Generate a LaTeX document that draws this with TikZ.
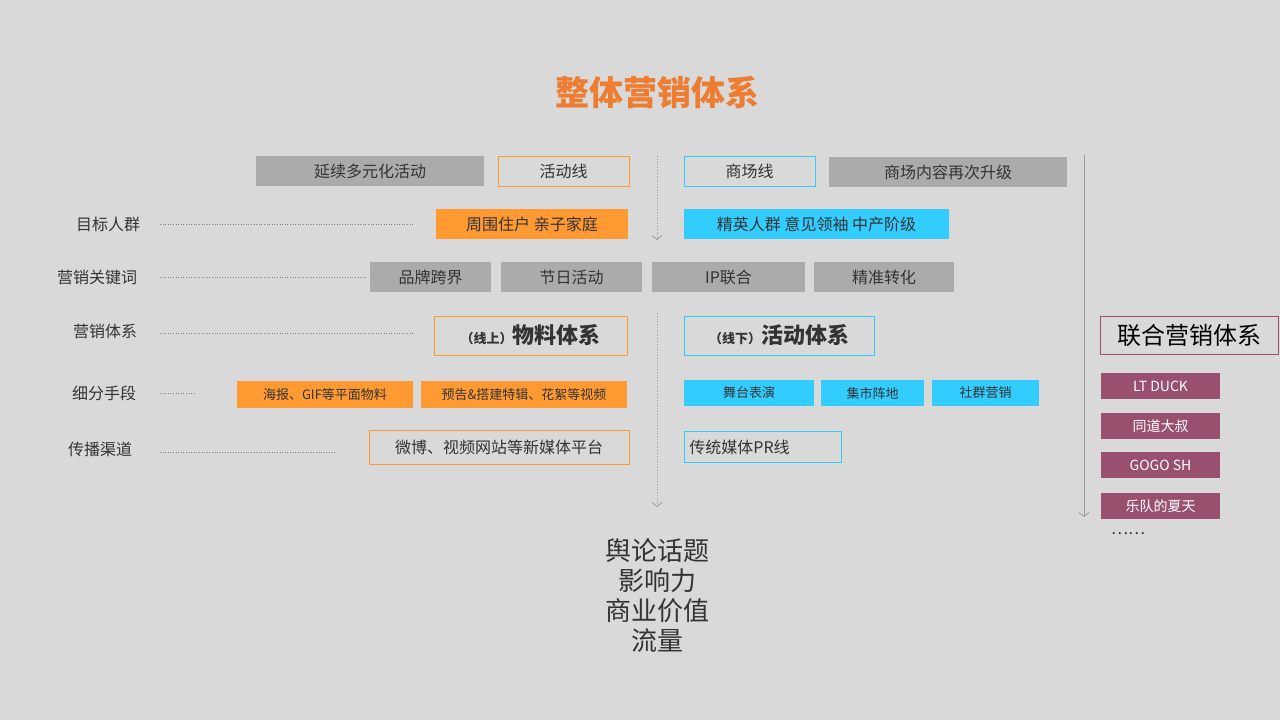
\documentclass[tikz,border=0pt]{standalone}
\usepackage{fontspec}
\setmainfont{Noto Sans CJK SC}
\usetikzlibrary{arrows.meta}
\definecolor{bg}{HTML}{D9D9D9}
\definecolor{gbox}{HTML}{ABABAB}
\definecolor{obox}{HTML}{FF9A33}
\definecolor{bbox}{HTML}{33CCFF}
\definecolor{pbox}{HTML}{99506F}
\definecolor{tit}{HTML}{ED7D31}
\definecolor{txt}{HTML}{333333}
\begin{document}
\begin{tikzpicture}[x=1pt,y=-1pt,
  bx/.style={inner sep=0pt,font=\fontsize{16}{16}\selectfont,text=txt},
  lab/.style={font=\fontsize{16}{16}\selectfont,text=txt},
  lead/.style={gray,dotted,line width=0.6pt},
  vline/.style={gray!80,line width=0.8pt,-{Straight Barb[length=4pt,width=10pt]}},
  ]
\fill[bg] (0,0) rectangle (1280,720);
\useasboundingbox (0,0) rectangle (1280,720);
\node[font=\fontsize{34}{34}\selectfont\bfseries,text=tit] (title) at (657,92) {整体营销体系};
\newcommand{\bxn}[7]{\node[bx,#2,minimum width={#5-#3},minimum height={#6-#4}] (#1) at ({(#3+#5)/2},{(#4+#6)/2}) {#7};}
% row1
\bxn{r1a}{fill=gbox}{256}{156}{484}{186}{延续多元化活动}
\bxn{r1b}{draw=obox,line width=0.8pt}{498}{156}{629}{186}{活动线}
\bxn{r1c}{draw=bbox,line width=0.8pt}{684}{156}{815}{186}{商场线}
\bxn{r1d}{fill=gbox}{829}{157}{1067}{187}{商场内容再次升级}
% row2
\bxn{r2a}{fill=obox}{436}{209}{628}{239}{周围住户 亲子家庭}
\bxn{r2b}{fill=bbox}{684}{209}{949}{239}{精英人群 意见领袖 中产阶级}
% row3
\bxn{r3a}{fill=gbox}{370}{262}{491}{292}{品牌跨界}
\bxn{r3b}{fill=gbox}{501}{262}{642}{292}{节日活动}
\bxn{r3c}{fill=gbox}{652}{262}{805}{292}{IP联合}
\bxn{r3d}{fill=gbox}{814}{262}{954}{292}{精准转化}
% row4
\bxn{r4a}{draw=obox,line width=0.8pt}{434}{316}{627}{355}{{\fontsize{13}{13}\selectfont\bfseries（线上）}{\fontsize{22}{22}\selectfont\bfseries 物料体系}}
\bxn{r4b}{draw=bbox,line width=0.8pt}{684}{316}{874}{355}{{\fontsize{13}{13}\selectfont\bfseries（线下）}{\fontsize{22}{22}\selectfont\bfseries 活动体系}}
\bxn{r4c}{draw=pbox,line width=0.8pt,text=black}{1100}{316}{1278}{354}{\fontsize{24}{24}\selectfont 联合营销体系}
% row5
\bxn{r5a}{fill=obox,font=\fontsize{13}{13}\selectfont}{237}{381}{413}{408}{海报、GIF等平面物料}
\bxn{r5b}{fill=obox,font=\fontsize{13}{13}\selectfont}{421}{381}{627}{408}{预告\&搭建特辑、花絮等视频}
\bxn{r5c}{fill=bbox,font=\fontsize{13}{13}\selectfont}{684}{380}{814}{406}{舞台表演}
\bxn{r5d}{fill=bbox,font=\fontsize{13}{13}\selectfont}{821}{380}{924}{406}{集市阵地}
\bxn{r5e}{fill=bbox,font=\fontsize{13}{13}\selectfont}{932}{380}{1039}{406}{社群营销}
% row6
\bxn{r6a}{draw=obox,line width=0.8pt}{369}{430}{629}{464}{微博、视频网站等新媒体平台}
\node[bx,draw=bbox,line width=0.8pt,minimum width=157,minimum height=31,anchor=north west,align=left,text width=147,inner xsep=5pt] (r6b) at (684,431) {传统媒体PR线};
% purple list
\bxn{p1}{fill=pbox,text=white,font=\fontsize{14}{14}\selectfont}{1101}{373}{1220}{399}{LT DUCK}
\bxn{p2}{fill=pbox,text=white,font=\fontsize{14}{14}\selectfont}{1101}{413}{1220}{439}{同道大叔}
\bxn{p3}{fill=pbox,text=white,font=\fontsize{14}{14}\selectfont}{1101}{452}{1220}{478}{GOGO SH}
\bxn{p4}{fill=pbox,text=white,font=\fontsize{14}{14}\selectfont}{1101}{493}{1220}{519}{乐队的夏天}
\node[lab] (dots) at (1128,534) {……};
% labels
\node[lab] (l1) at (108,224) {目标人群};
\node[lab] (l2) at (97,277) {营销关键词};
\node[lab] (l3) at (105,331) {营销体系};
\node[lab] (l4) at (104,393) {细分手段};
\node[lab] (l5) at (100,449) {传播渠道};
\coordinate (e1) at (413,224); \coordinate (s1) at (160,224);
\coordinate (e2) at (368,277); \coordinate (s2) at (160,277);
\coordinate (e3) at (413,333); \coordinate (s3) at (160,333);
\coordinate (e4) at (195,393); \coordinate (s4) at (160,393);
\coordinate (e5) at (335,452); \coordinate (s5) at (160,452);
\foreach \i in {1,...,5}{\draw[lead] (s\i) -- (e\i);}
% vertical lines
\coordinate (v1a) at (657,156); \coordinate (v1b) at (657,240);
\coordinate (v2a) at (657,313); \coordinate (v2b) at (657,507);
\coordinate (v3a) at (1084,155); \coordinate (v3b) at (1084,517);
\draw[vline,dotted] (v1a) -- (v1b);
\draw[vline,dotted] (v2a) -- (v2b);
\draw[vline] (v3a) -- (v3b);
% bottom
\node[font=\fontsize{26}{30}\selectfont,text=txt,align=center,anchor=north] (res) at (657,535) {舆论话题\\影响力\\商业价值\\流量};
\end{tikzpicture}
\end{document}
